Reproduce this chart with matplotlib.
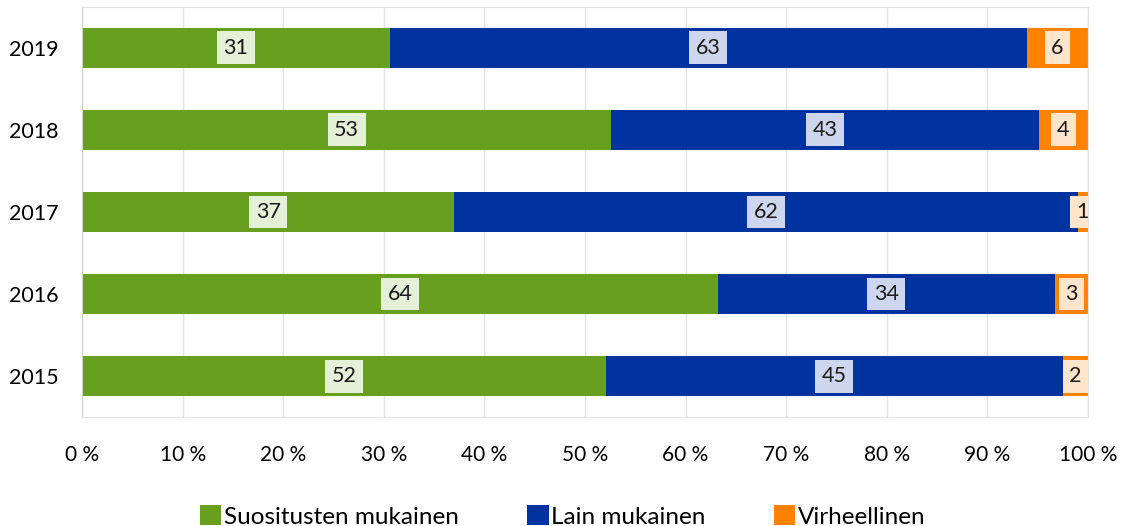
import numpy as np
import matplotlib.pyplot as plt

plt.rcParams['font.family'] = ['Lato', 'DejaVu Sans']

years = ['2019', '2018', '2017', '2016', '2015']
series_names = ['Suositusten mukainen', 'Lain mukainen', 'Virheellinen']

# shares (percent of bar length)
suositus = [30.6, 52.6, 37.0, 63.2, 52.1]
laki = [63.3, 42.5, 62.0, 33.5, 45.4]
virhe = [6.1, 4.9, 1.0, 3.3, 2.5]

# numbers printed on the bars
suositus_lbl = [31, 53, 37, 64, 52]
laki_lbl = [63, 43, 62, 34, 45]
virhe_lbl = [6, 4, 1, 3, 2]

colors = ['#66a01e', '#0033a0', '#ff8200']
box_colors = ['#e4f0d8', '#cdd6ec', '#ffe5cc']

fig = plt.figure(figsize=(11.25, 5.26), dpi=100)
ax = fig.add_axes([0.073, 0.207, 0.894, 0.78])

y = np.arange(len(years))[::-1]
left = np.zeros(len(years))
for vals, lbls, col, bcol, name in zip([suositus, laki, virhe],
                                       [suositus_lbl, laki_lbl, virhe_lbl],
                                       colors, box_colors, series_names):
    vals = np.array(vals)
    ax.barh(y, vals, left=left, height=0.49, color=col, label=name, zorder=2)
    for yi, l, v, t in zip(y, left, vals, lbls):
        ax.text(l + v / 2, yi, str(t), ha='center', va='center', fontsize=15.5,
                color='#1a1a1a', zorder=3, clip_on=True,
                bbox=dict(boxstyle='square,pad=0.3', fc=bcol, ec='none'))
    left = left + vals

ax.set_xlim(0, 100)
ax.set_ylim(-0.5, len(years) - 0.5)
ax.set_xticks(np.arange(0, 101, 10))
ax.set_xticklabels([f'{t} %' for t in range(0, 101, 10)], fontsize=15)
ax.set_yticks(y)
ax.set_yticklabels(years, fontsize=15.5)
ax.tick_params(length=0)
ax.tick_params(axis='x', pad=20)
ax.tick_params(axis='y', pad=17)
ax.grid(axis='x', color='#e4e4e4', linewidth=1, zorder=0)
for s in ax.spines.values():
    s.set_color('#e4e4e4')
ax.spines['left'].set_color('#d0d0d0')

fig.legend(loc='lower center', bbox_to_anchor=(0.5, -0.045), ncol=3, frameon=False,
           fontsize=17.5, handlelength=0.9, handleheight=0.9, handletextpad=0.1,
           columnspacing=2.8)

plt.savefig('out.png', dpi=100)
